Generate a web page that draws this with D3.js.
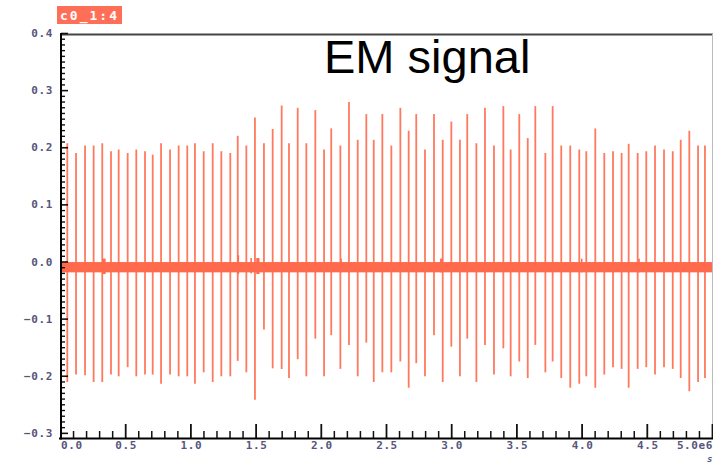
<!DOCTYPE html>
<html>
<head>
<meta charset="utf-8">
<script src="https://cdn.jsdelivr.net/npm/d3@7"></script>
<style>
  body { margin: 0; background: #fff; }
  svg { display: block; }
  .tick-label { font-family: 'DejaVu Sans Mono', monospace; font-weight: bold; font-size: 11px; fill: #56567c; letter-spacing: 0.6px; }
</style>
</head>
<body>
<svg id="chart"></svg>
<script>
// pulse times (units of 1e6 samples)
const pulseTimes = [
  0.056, 0.123, 0.192, 0.258, 0.324, 0.391, 0.450, 0.519, 0.585, 0.652,
  0.711, 0.775, 0.844, 0.910, 0.976, 1.035, 1.102, 1.171, 1.237, 1.306,
  1.363, 1.429, 1.495, 1.564, 1.631,
  1.700, 1.756, 1.823, 1.889, 1.958, 2.025, 2.080, 2.150, 2.216, 2.283,
  2.349, 2.406, 2.472, 2.541, 2.610, 2.674, 2.732, 2.799, 2.868, 2.935,
  3.001, 3.067, 3.123, 3.193, 3.259, 3.328,
  3.400, 3.456, 3.522, 3.587, 3.645, 3.722, 3.778, 3.844, 3.913, 3.982,
  4.036, 4.105, 4.174, 4.241, 4.307, 4.361, 4.430, 4.496, 4.563, 4.632,
  4.699, 4.760, 4.826, 4.893, 4.946
];
// positive peak of each pulse
const pulseHigh = [
  0.207, 0.190, 0.203, 0.203, 0.207, 0.193, 0.196, 0.190, 0.196, 0.193,
  0.187, 0.207, 0.196, 0.203, 0.203, 0.207, 0.193, 0.207, 0.193, 0.190,
  0.220, 0.203, 0.252, 0.207, 0.232,
  0.273, 0.207, 0.269, 0.207, 0.265, 0.196, 0.233, 0.203, 0.279, 0.213,
  0.258, 0.213, 0.258, 0.203, 0.269, 0.229, 0.258, 0.196, 0.258, 0.213,
  0.245, 0.213, 0.258, 0.207, 0.269, 0.203,
  0.272, 0.196, 0.258, 0.216, 0.272, 0.190, 0.272, 0.203, 0.203, 0.196,
  0.193, 0.233, 0.190, 0.193, 0.190, 0.206, 0.190, 0.193, 0.203, 0.196,
  0.193, 0.213, 0.229, 0.203, 0.203
];
// negative peak of each pulse
const pulseLow = [
  -0.211, -0.198, -0.199, -0.211, -0.211, -0.198, -0.201, -0.185, -0.201, -0.198,
  -0.198, -0.214, -0.198, -0.201, -0.201, -0.214, -0.194, -0.211, -0.201, -0.201,
  -0.174, -0.194, -0.242, -0.119, -0.187,
  -0.188, -0.204, -0.171, -0.201, -0.135, -0.201, -0.129, -0.188, -0.146, -0.201,
  -0.142, -0.211, -0.194, -0.194, -0.175, -0.221, -0.178, -0.201, -0.129, -0.211,
  -0.149, -0.201, -0.135, -0.211, -0.146, -0.198,
  -0.152, -0.201, -0.175, -0.204, -0.146, -0.194, -0.175, -0.204, -0.221, -0.214,
  -0.201, -0.221, -0.198, -0.185, -0.188, -0.221, -0.188, -0.185, -0.198, -0.185,
  -0.188, -0.204, -0.227, -0.211, -0.204
];
// noise floor band and the small bursts on it: [start, end, high, low]
const noiseFloor = [0.0, 5.0, -0.001, -0.019];
const noiseBursts = [
  [0.325, 0.350, 0.005, -0.022],
  [1.362, 1.372, 0.011, -0.022],
  [1.460, 1.470, 0.006, -0.021],
  [1.505, 1.530, 0.006, -0.022],
  [2.150, 2.160, 0.005, -0.019],
  [2.915, 2.935, 0.005, -0.019],
  [3.995, 4.005, 0.005, -0.019],
  [4.435, 4.445, 0.005, -0.019]
];
const xMajor = [0.0, 0.5, 1.0, 1.5, 2.0, 2.5, 3.0, 3.5, 4.0, 4.5, 5.0];
const yMajor = [-0.3, -0.2, -0.1, 0.0, 0.1, 0.2, 0.3, 0.4];
const chartTitle = 'EM signal';
const traceName = 'c0_1:4';

const width = 713, height = 465;
const color = '#ff6a4d';

const svg = d3.select('#chart')
  .attr('width', width)
  .attr('height', height);

const x = d3.scaleLinear().domain([0, 5.0]).range([60, 712]);
const y = d3.scaleLinear().domain([-0.309, 0.4]).range([438, 33]);

// frame (top + right)
svg.append('line')
  .attr('x1', 61).attr('x2', 713).attr('y1', 34.5).attr('y2', 34.5)
  .attr('stroke', '#444').attr('stroke-width', 2);
svg.append('line')
  .attr('x1', 712.5).attr('x2', 712.5).attr('y1', 34).attr('y2', 438)
  .attr('stroke', '#bbb').attr('stroke-width', 1);

// noise floor
const plot = svg.append('g');
plot.append('rect')
  .attr('x', x(noiseFloor[0]))
  .attr('width', x(noiseFloor[1]) - x(noiseFloor[0]))
  .attr('y', y(noiseFloor[2]))
  .attr('height', y(noiseFloor[3]) - y(noiseFloor[2]))
  .attr('fill', color);

plot.selectAll('.burst')
  .data(noiseBursts)
  .join('rect')
  .attr('class', 'burst')
  .attr('x', d => x(d[0]))
  .attr('width', d => Math.max(1.5, x(d[1]) - x(d[0])))
  .attr('y', d => y(d[2]))
  .attr('height', d => y(d[3]) - y(d[2]))
  .attr('fill', color);

// pulses
plot.selectAll('.pulse')
  .data(pulseTimes)
  .join('line')
  .attr('class', 'pulse')
  .attr('x1', d => x(d)).attr('x2', d => x(d))
  .attr('y1', (d, i) => y(pulseHigh[i]))
  .attr('y2', (d, i) => y(pulseLow[i]))
  .attr('stroke', color)
  .attr('stroke-opacity', 0.9)
  .attr('stroke-width', 1.8);

// x axis: minor ticks, then major ticks with labels
const xMinor = d3.range(1, 50).map(i => i / 10).filter(v => Math.abs(v * 2 - Math.round(v * 2)) > 1e-6);
const xAxisG = svg.append('g').attr('transform', 'translate(0,438)');
xAxisG.append('g')
  .call(d3.axisBottom(x).tickValues(xMinor).tickSize(-7).tickFormat(''))
  .call(g => g.select('.domain').remove())
  .call(g => g.selectAll('.tick line').attr('stroke', '#111').attr('stroke-width', 1.5));
xAxisG.append('g')
  .call(d3.axisBottom(x).tickValues(xMajor.slice(1)).tickSize(-14).tickFormat(''))
  .call(g => g.select('.domain').remove())
  .call(g => g.selectAll('.tick line').attr('stroke', '#111').attr('stroke-width', 1.8));
xAxisG.selectAll('.xlab')
  .data(xMajor)
  .join('text')
  .attr('class', 'tick-label xlab')
  .attr('x', d => x(d) + 1)
  .attr('y', 11)
  .attr('text-anchor', (d, i) => i === 0 ? 'start' : (i === xMajor.length - 1 ? 'end' : 'middle'))
  .text((d, i) => i === xMajor.length - 1 ? d.toFixed(1) + 'e6' : d.toFixed(1));
svg.append('text')
  .attr('class', 'tick-label')
  .attr('x', 713).attr('y', 462)
  .attr('text-anchor', 'end')
  .style('font-style', 'italic')
  .style('font-size', '9px')
  .text('s');
svg.append('line')
  .attr('x1', 59).attr('x2', 713).attr('y1', 438.5).attr('y2', 438.5)
  .attr('stroke', '#000').attr('stroke-width', 2);

// y axis
const yMinor = d3.range(-30, 41).map(i => i / 100).filter(v => Math.abs(v * 10 - Math.round(v * 10)) > 1e-6);
const yAxisG = svg.append('g').attr('transform', 'translate(61,0)');
yAxisG.append('g')
  .call(d3.axisLeft(y).tickValues(yMinor).tickSize(-4).tickFormat(''))
  .call(g => g.select('.domain').remove())
  .call(g => g.selectAll('.tick line').attr('stroke', '#111').attr('stroke-width', 1.4));
yAxisG.append('g')
  .call(d3.axisLeft(y).tickValues(yMajor).tickSize(-7).tickPadding(8).tickFormat(d3.format('.1f')))
  .call(g => g.select('.domain').remove())
  .call(g => g.selectAll('.tick line').attr('stroke', '#111').attr('stroke-width', 1.6))
  .call(g => g.selectAll('.tick text').attr('class', 'tick-label').attr('fill', null));
svg.append('line')
  .attr('x1', 61).attr('x2', 61).attr('y1', 33).attr('y2', 439.5)
  .attr('stroke', '#000').attr('stroke-width', 2);

// trace name badge
svg.append('rect')
  .attr('x', 57).attr('y', 6).attr('width', 65).attr('height', 18)
  .attr('fill', '#ff6f57');
svg.append('text')
  .attr('x', 60).attr('y', 19.5)
  .attr('fill', '#fff')
  .style('font-family', "'DejaVu Sans Mono', monospace")
  .style('font-weight', 'bold')
  .style('font-size', '13px')
  .style('letter-spacing', '2px')
  .text(traceName);

// title
svg.append('text')
  .attr('x', 324).attr('y', 73)
  .attr('fill', '#000')
  .style('font-family', "'Liberation Sans', Arial, sans-serif")
  .style('font-size', '47px')
  .text(chartTitle);
</script>
</body>
</html>
